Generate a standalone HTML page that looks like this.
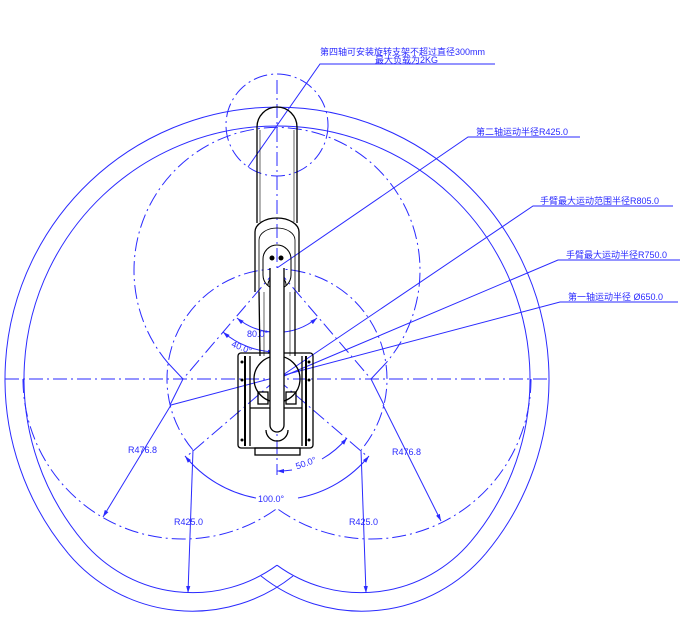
<!DOCTYPE html>
<html><head><meta charset="utf-8"><style>
html,body{margin:0;padding:0;background:#fff;width:689px;height:622px;overflow:hidden}
svg{display:block}
text{font-family:"Liberation Sans","Noto Sans CJK SC",sans-serif;fill:#2a2aff}
</style></head><body>
<svg width="689" height="622" viewBox="0 0 689 622" xmlns="http://www.w3.org/2000/svg">
<defs>
<marker id="ar" viewBox="0 0 10 10" refX="10" refY="5" markerWidth="7" markerHeight="7" orient="auto-start-reverse"><path d="M0,2 L10,5 L0,8 z" fill="#2a2aff"/></marker>
</defs>
<g fill="none" stroke="#2a2aff" stroke-width="1">
<!-- outer envelope -->
<path d="M68.6,553.9 A272,272 0 1 1 485.4,553.9"/>
<path d="M68.6,553.9 A162,162 0 0 0 293,576"/>
<path d="M485.4,553.9 A162,162 0 0 1 261,576"/>
<!-- inner envelope -->
<path d="M83.2,541.6 A253,253 0 1 1 470.8,541.6"/>
<path d="M83.2,541.6 A143,143 0 0 0 277,565.2"/>
<path d="M470.8,541.6 A143,143 0 0 1 277,565.2"/>
</g>
<g fill="none" stroke="#2a2aff" stroke-width="1" stroke-dasharray="14,4,2,4">
<line x1="5" y1="379" x2="550" y2="379"/>
<line x1="277" y1="80" x2="277" y2="475"/>
<path d="M168,363 A143,143 0 1 1 386,363"/>
<path d="M23,379 A160,160 0 0 0 277,508.5"/>
<path d="M531,379 A160,160 0 0 1 277,508.5"/>
<path d="M192.7,449.7 A110,110 0 1 1 361.3,449.7"/>
<circle cx="277" cy="125" r="51"/>
<line x1="277" y1="379" x2="186" y2="457"/>
<line x1="277" y1="379" x2="368" y2="457"/>
<line x1="277" y1="269" x2="183" y2="379"/>
<line x1="277" y1="269" x2="371" y2="379"/>
</g>
<g fill="none" stroke="#2a2aff" stroke-width="1">
<polyline points="168,363 183,379 170,405"/>
<polyline points="386,363 371,379 384,405"/>
<!-- leaders -->
<polyline points="495,64 320,64 248,167"/>
<polyline points="580,137 468,137 277,268"/>
<polyline points="673,206 533,206 277,379"/>
<polyline points="680,260 558,260 277,379"/>
<polyline points="678,302 560,302 171,405"/>
<line x1="171" y1="405" x2="103" y2="517" marker-end="url(#ar)"/>
<line x1="383" y1="405" x2="441" y2="521" marker-end="url(#ar)"/>
<line x1="193" y1="450" x2="188" y2="593" marker-end="url(#ar)"/>
<line x1="361" y1="450" x2="366" y2="593" marker-end="url(#ar)"/>
<!-- angle dims -->
<path d="M237,318 A63,63 0 0 0 317,318" marker-start="url(#ar)" marker-end="url(#ar)"/>
<path d="M223,332 A83,83 0 0 0 275,352" marker-start="url(#ar)" marker-end="url(#ar)"/>
<path d="M185,456 A120,120 0 0 0 256,498" marker-start="url(#ar)"/>
<path d="M298,498 A120,120 0 0 0 369,456" marker-end="url(#ar)"/>
<path d="M277,471 A92,92 0 0 0 292,470" marker-start="url(#ar)"/>
<path d="M322,459 A92,92 0 0 0 347,438" marker-end="url(#ar)"/>
</g>
<!-- robot -->
<g fill="none" stroke="#000" stroke-width="1.3">
<path d="M257,223 V127 A20,20 0 0 1 297,127 V223"/>
<line x1="260" y1="130" x2="260" y2="222" stroke-width="0.6"/>
<line x1="294" y1="130" x2="294" y2="222" stroke-width="0.6"/>
<path d="M255,292 V232 A22,14 0 0 1 299,232 V292"/>
<path d="M259,292 V240 A18,12 0 0 1 295,240 V292" stroke-width="0.8"/>
<rect x="263" y="245" width="28" height="44" rx="14" stroke-width="1"/>
<path d="M268,285 A9,9 0 0 1 286,285" stroke-width="1"/>
<path d="M259,292 L260,356"/><path d="M295,292 L295,356"/>
<path d="M264,292 L264,356" stroke-width="0.6"/><path d="M290,292 L290,356" stroke-width="0.6"/>
<rect x="238" y="353" width="75" height="95" rx="3"/>
<line x1="245" y1="356" x2="245" y2="446" stroke-width="2"/>
<line x1="250" y1="356" x2="250" y2="446"/>
<line x1="306" y1="356" x2="306" y2="446" stroke-width="2"/>
<line x1="302" y1="356" x2="302" y2="446"/>
<line x1="250" y1="408" x2="302" y2="408"/>
<rect x="255" y="448" width="45" height="7"/>
<circle cx="277" cy="379" r="23"/>
<rect x="258" y="392" width="10" height="12"/><rect x="286" y="392" width="10" height="12"/>
<path d="M270,268 V425 A7,7 0 0 0 284,425 V268" fill="#fff"/>
<path d="M266,430 A11,11 0 0 0 288,430"/>
</g>
<g fill="#000">
<circle cx="272" cy="258" r="2.5"/><circle cx="281" cy="258" r="2.5"/>
<circle cx="242" cy="362" r="1.5"/><circle cx="242" cy="380" r="1.5"/><circle cx="242" cy="440" r="1.5"/>
<circle cx="309" cy="362" r="1.5"/><circle cx="309" cy="380" r="1.5"/><circle cx="309" cy="440" r="1.5"/>
</g>
<!-- labels -->
<g font-size="9">
<text x="320" y="55">第四轴可安装旋转支架不超过直径300mm</text>
<text x="375" y="63">最大负载为2KG</text>
<text x="476" y="135">第二轴运动半径R425.0</text>
<text x="540" y="204">手臂最大运动范围半径R805.0</text>
<text x="566" y="258">手臂最大运动半径R750.0</text>
<text x="568" y="300">第一轴运动半径 Ø650.0</text>
<text x="247" y="337">80.0°</text>
<text x="230" y="350" transform="rotate(22 240 350)">40.0°</text>
<text x="295" y="466" transform="rotate(-20 306 462)">50.0°</text>
<text x="258" y="502">100.0°</text>
<text x="128" y="453">R476.8</text>
<text x="392" y="455">R476.8</text>
<text x="174" y="525">R425.0</text>
<text x="349" y="525">R425.0</text>
</g>
</svg>
</body></html>
